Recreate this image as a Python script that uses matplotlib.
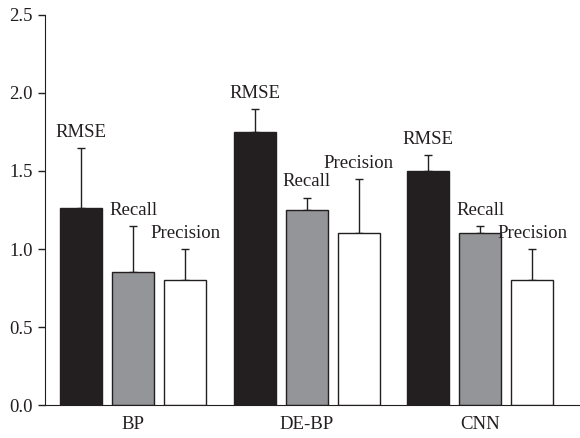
import numpy as np
import matplotlib.pyplot as plt

plt.rcParams['font.family'] = ['Liberation Serif', 'DejaVu Serif']

# models and metrics
models = ["BP", "DE-BP", "CNN"]
metrics = ["RMSE", "Recall", "Precision"]

# mean values per metric, one entry per model
rmse = [1.26, 1.75, 1.50]
recall = [0.85, 1.25, 1.10]
precision = [0.80, 1.10, 0.80]

# upper error bar lengths
rmse_err = [0.39, 0.15, 0.10]
recall_err = [0.30, 0.08, 0.05]
precision_err = [0.20, 0.35, 0.20]

values = [rmse, recall, precision]
errors = [rmse_err, recall_err, precision_err]
colors = ["#231f20", "#939598", "#ffffff"]
edge = "#231f20"

fig = plt.figure(figsize=(5.8, 4.38), dpi=100)
ax = fig.add_axes([0.0776, 0.0753, 0.9224, 0.8905])

x = np.arange(len(models))
width = 0.242
step = 0.30

for i, (vals, errs, col, name) in enumerate(zip(values, errors, colors, metrics)):
    pos = x + (i - 1) * step
    ax.bar(pos, vals, width, color=col, edgecolor=edge, linewidth=1.0, zorder=2)
    ax.errorbar(pos, vals, yerr=[np.zeros(len(errs)), errs], fmt='none',
                ecolor=edge, elinewidth=1.0, capsize=3, capthick=1.0, zorder=1)
    for p, v, e in zip(pos, vals, errs):
        ax.text(p, v + e + 0.045, name, ha='center', va='bottom',
                fontsize=13.5, color=edge)

ax.set_xlim(-0.51, 2.576)
ax.set_ylim(0, 2.5)
ax.set_yticks([0, 0.5, 1.0, 1.5, 2.0, 2.5])
ax.set_yticklabels(["0.0", "0.5", "1.0", "1.5", "2.0", "2.5"])
ax.set_xticks(x)
ax.set_xticklabels(models)
ax.tick_params(axis='x', length=0, pad=8, labelsize=13.5, colors=edge)
ax.tick_params(axis='y', length=5, width=1.0, labelsize=13.5, colors=edge,
               direction='out', pad=4)

ax.spines['top'].set_visible(False)
ax.spines['right'].set_visible(False)
ax.spines['left'].set_color(edge)
ax.spines['bottom'].set_color(edge)

plt.savefig("out.png", dpi=100)
